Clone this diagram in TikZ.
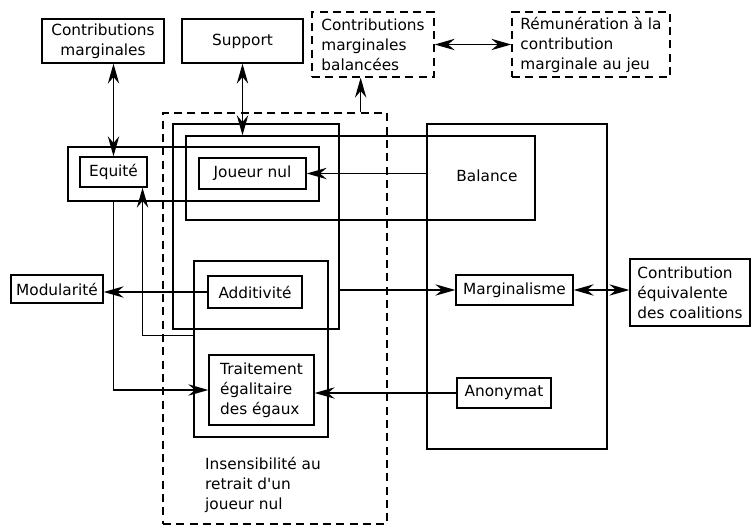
\documentclass[tikz,border=0pt]{standalone}
\usepackage{fontspec}
\setmainfont{DejaVu Sans}
\usetikzlibrary{arrows.meta,fit,calc}

\begin{document}
\begin{tikzpicture}[
	x=0.75pt, y=-0.75pt,
	line width=1pt,
	every node/.style={font=\fontsize{11.5}{15}\selectfont},
	size/.style 2 args={minimum width={#1*0.75pt}, minimum height={#2*0.75pt}},
	prop/.style={draw, inner sep=0pt, align=center},
	propleft/.style={prop, align=left},
	dprop/.style={prop, align=left, dash pattern=on 6pt off 4pt},
	zone/.style={draw, inner sep=0pt},
	dzone/.style={zone, dash pattern=on 6pt off 4pt},
	arrow/.style={-{Stealth[length=15pt, width=8.5pt, inset=5pt]}},
	biarrow/.style={{Stealth[length=15pt, width=8.5pt, inset=5pt]}-{Stealth[length=15pt, width=8.5pt, inset=5pt]}},
	note/.style={align=left}
]
\useasboundingbox (0,0) rectangle (751,527);

% top row
\node[prop, size={122}{44}] (cmarg) at (103,41) {Contributions\\marginales};
\node[prop, size={121}{44}] (supp) at (242.5,41) {Support};
\node[dprop, size={122}{65}] (cbal) at (373,44.5) {Contributions\\marginales\\balancées};
\node[dprop, size={158}{65}] (remu) at (591,44.5) {Rémunération à la\\contribution\\marginale au jeu};

% zones
\node[dzone, fit={(163,113) (387,524)}] (zins) {};
\node[zone, fit={(173,124) (339,329)}] (zsupp) {};
\node[zone, fit={(186,136) (535,220)}] (zbal) {};
\node[zone, fit={(427,124) (607,449)}] (zmarg) {};
\node[zone, fit={(68,147) (319,201)}] (zequ) {};
\node[zone, fit={(194,261) (328,437)}] (zadd) {};

\node (bal) at (487,176) {Balance};
\node[note] (ins) at (263,485) {Insensibilité au\\retrait d\textquotesingle un\\joueur nul};

% properties
\node[prop, size={67}{30}] (equ) at (113.5,172) {Equité};
\node[prop, size={107}{31}] (jnul) at (252.5,173.5) {Joueur nul};
\node[prop, size={94}{32}] (add) at (255,292) {Additivité};
\node[propleft, size={105}{70}] (trait) at (261.5,390) {Traitement\\égalitaire\\des égaux};
\node[prop, size={92}{28}] (mod) at (57,289) {Modularité};
\node[prop, size={117}{30}] (marg) at (514.5,290) {Marginalisme};
\node[propleft, size={120}{67}] (ceq) at (690,292.5) {Contribution\\équivalente\\des coalitions};
\node[prop, size={94}{30}] (anon) at (504,393) {Anonymat};

% links
\coordinate (cbalin) at ($(cbal.south west)!0.4!(cbal.south east)$);
\coordinate (equin) at ($(equ.south)!0.85!(equ.south east)$);

\draw[biarrow] (equ.north |- cmarg.south) -- (equ.north);
\draw[biarrow] (supp.south) -- (supp.south |- zbal.north);
\draw[arrow]   (cbalin |- zins.north) -- (cbalin);
\draw[biarrow] (cbal) -- (remu);
\draw[arrow]   (zmarg.west |- jnul) -- (jnul);
\draw[arrow]   (add.west) -- (add.west -| mod.east);
\draw[arrow]   (equ.south |- zequ.south) |- (trait);
\draw[arrow]   ([yshift=10pt]zadd.west) -| (equin);
\draw[arrow]   (zsupp.east |- marg) -- (marg);
\draw[biarrow] (marg) -- (marg -| ceq.west);
\draw[arrow]   (anon) -- (anon -| trait.east);
\end{tikzpicture}
\end{document}
